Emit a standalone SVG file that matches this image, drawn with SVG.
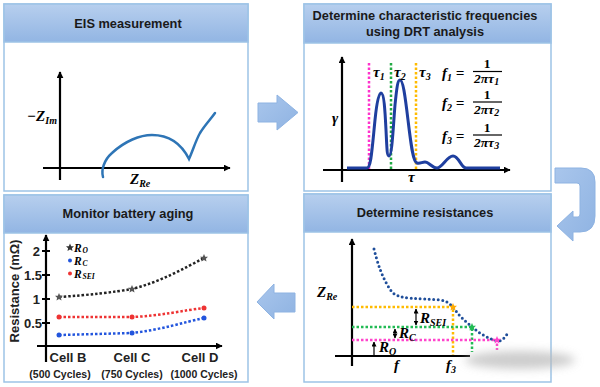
<svg xmlns="http://www.w3.org/2000/svg" width="600" height="387" viewBox="0 0 600 387">
<defs>
<linearGradient id="hdr" x1="0" y1="0" x2="0" y2="1">
<stop offset="0" stop-color="#b7cfee"/>
<stop offset="1" stop-color="#92b5e3"/>
</linearGradient>
<linearGradient id="arr" x1="0" y1="0" x2="1" y2="1">
<stop offset="0" stop-color="#a9c6ec"/>
<stop offset="1" stop-color="#8fb3e2"/>
</linearGradient>
<marker id="ah" viewBox="0 0 10 10" refX="9" refY="5" markerWidth="7" markerHeight="7" orient="auto-start-reverse" markerUnits="userSpaceOnUse">
<path d="M0,0 L10,5 L0,10 z" fill="#000"/>
</marker>
<marker id="sh" viewBox="0 0 10 10" refX="9" refY="5" markerWidth="5" markerHeight="5" orient="auto-start-reverse" markerUnits="userSpaceOnUse">
<path d="M0,0 L10,5 L0,10 z" fill="#000"/>
</marker>
<path id="star" d="M0,-4 L1.2,-1.3 4,-1.2 1.9,0.7 2.5,3.5 0,2 -2.5,3.5 -1.9,0.7 -4,-1.2 -1.2,-1.3 z"/>
<filter id="blur" x="-50%" y="-100%" width="200%" height="300%"><feGaussianBlur stdDeviation="5"/></filter>
<style>
.panel{fill:#fff;stroke:#9dc3e6;stroke-width:1.5}
.hdr{fill:url(#hdr);stroke:#9dc3e6;stroke-width:1.5}
.ht{font-family:"Liberation Sans",Arial,sans-serif;font-weight:bold;font-size:12.8px;fill:#1a1a1a;text-anchor:middle}
.ax{stroke:#000;stroke-width:2.2;fill:none}
.m{font-family:"Liberation Serif","Times New Roman",serif;font-weight:bold;font-style:italic;font-size:15px;fill:#000}
.mu{font-family:"Liberation Serif","Times New Roman",serif;font-weight:bold;font-size:15px;fill:#000}
.fr{font-size:13.5px}
.sub{font-size:10px}
.lg{font-size:11.5px}
.lgs{font-size:7.5px}
.lab{font-family:"Liberation Sans",Arial,sans-serif;font-weight:bold;font-size:13px;fill:#222}
.small{font-family:"Liberation Sans",Arial,sans-serif;font-weight:bold;font-size:10.5px;fill:#222;text-anchor:middle}
.dot{fill:none;stroke-width:2.5;stroke-dasharray:2.5 2}
.flow{fill:url(#arr);stroke:#8eb3e2;stroke-width:1}
</style>
</defs>

<g id="eis">
<rect class="panel" x="4" y="4" width="244" height="187"/>
<rect class="hdr" x="4" y="4" width="244" height="38"/>
<text class="ht" x="128" y="28">EIS measurement</text>
<line class="ax" x1="60" y1="180" x2="60" y2="72" marker-end="url(#ah)"/>
<line class="ax" x1="43" y1="168" x2="230" y2="168" marker-end="url(#ah)"/>
<text class="m" x="27" y="121">−Z<tspan class="sub" dy="3">Im</tspan></text>
<text class="m" x="130" y="184">Z<tspan class="sub" dy="3">Re</tspan></text>
<path d="M103,177 C101,170 104,160 112,153 C125,141 140,135 152,135 C170,135 182,145 189,159 C193,150 196,140 200,133 C205,125 210,120 215,113" fill="none" stroke="#2e75b6" stroke-width="2.5" stroke-linecap="round"/>
</g>

<g id="drt">
<rect class="panel" x="304" y="4" width="247" height="187"/>
<rect class="hdr" x="304" y="4" width="247" height="39"/>
<text class="ht" x="425" y="20">Determine characteristic frequencies</text>
<text class="ht" x="425" y="36">using DRT analysis</text>
<line class="ax" x1="342" y1="182" x2="342" y2="57" marker-end="url(#ah)"/>
<line class="ax" x1="323" y1="170" x2="510" y2="170" marker-end="url(#ah)"/>
<line class="dot" x1="369" y1="63" x2="369" y2="169" stroke="#ff33cc"/>
<line class="dot" x1="391" y1="63" x2="391" y2="169" stroke="#22aa44"/>
<line class="dot" x1="416" y1="63" x2="416" y2="169" stroke="#ffbb00"/>
<path d="M347,168 L367,168 C371,168 372,150 375,120 C377,100 379,93 381,93 C384,93 385,110 386,130 C387,150 387,156 389,156 C392,156 393,130 395,105 C397,85 398,80 400,80 C403,80 405,95 408,120 C411,145 413,162 417,163 C420,164 422,162 425,162 C429,162 432,168 437,168 C442,168 447,156 453,156 C459,156 461,168 466,168 L500,168" fill="none" stroke="#1f3f9f" stroke-width="3" stroke-linejoin="round"/>
<text class="m" x="332" y="123">γ</text>
<text class="m" x="408" y="182">τ</text>
<text class="m" x="373" y="77">τ<tspan class="sub" dy="3">1</tspan></text>
<text class="m" x="394" y="77">τ<tspan class="sub" dy="3">2</tspan></text>
<text class="m" x="419" y="77">τ<tspan class="sub" dy="3">3</tspan></text>
<text class="m" x="442" y="78">f<tspan class="sub" dy="3">1</tspan><tspan class="mu" dy="-3"> =</tspan></text>
<text class="mu fr" x="487" y="68" text-anchor="middle">1</text>
<line x1="473" y1="71.5" x2="502" y2="71.5" stroke="#000" stroke-width="1.2"/>
<text class="m fr" x="474" y="83">2πτ<tspan class="sub" font-size="9" dy="2">1</tspan></text>
<text class="m" x="442" y="108">f<tspan class="sub" dy="3">2</tspan><tspan class="mu" dy="-3"> =</tspan></text>
<text class="mu fr" x="487" y="99" text-anchor="middle">1</text>
<line x1="473" y1="102" x2="502" y2="102" stroke="#000" stroke-width="1.2"/>
<text class="m fr" x="474" y="114">2πτ<tspan class="sub" font-size="9" dy="2">2</tspan></text>
<text class="m" x="442" y="141">f<tspan class="sub" dy="3">3</tspan><tspan class="mu" dy="-3"> =</tspan></text>
<text class="mu fr" x="487" y="132" text-anchor="middle">1</text>
<line x1="473" y1="135" x2="502" y2="135" stroke="#000" stroke-width="1.2"/>
<text class="m fr" x="474" y="147">2πτ<tspan class="sub" font-size="9" dy="2">3</tspan></text>
</g>

<g id="aging">
<rect class="panel" x="4" y="195" width="244" height="187"/>
<rect class="hdr" x="4" y="195" width="244" height="38"/>
<text class="ht" x="128" y="218">Monitor battery aging</text>
<line class="ax" x1="46" y1="362" x2="46" y2="235" marker-end="url(#ah)"/>
<line class="ax" x1="37" y1="346" x2="222" y2="346" marker-end="url(#ah)"/>
<g stroke="#000" stroke-width="2">
<line x1="42" y1="251" x2="50" y2="251"/><line x1="42" y1="275" x2="50" y2="275"/>
<line x1="42" y1="299" x2="50" y2="299"/><line x1="42" y1="323" x2="50" y2="323"/>
</g>
<g class="lab" text-anchor="end">
<text x="40" y="256">2</text><text x="42" y="280">1.5</text>
<text x="40" y="304">1</text><text x="42" y="328">0.5</text>
</g>
<text class="lab" transform="translate(19,291) rotate(-90)" text-anchor="middle" font-size="12">Resistance (mΩ)</text>
<text class="lab" x="68" y="362" text-anchor="middle">Cell B</text>
<text class="lab" x="132" y="362" text-anchor="middle">Cell C</text>
<text class="lab" x="200" y="362" text-anchor="middle">Cell D</text>
<text class="small" x="60" y="378">(500 Cycles)</text>
<text class="small" x="132" y="378">(750 Cycles)</text>
<text class="small" x="204" y="378">(1000 Cycles)</text>
<path class="dot" d="M59,297 C90,295 115,292 132,289 C160,282 185,268 204,258" stroke="#222"/>
<path class="dot" d="M59,317 L132,317 C160,316 185,310 204,308" stroke="#ee3333"/>
<path class="dot" d="M59,335 L132,333 C160,330 185,322 204,318" stroke="#2255dd"/>
<use href="#star" x="59" y="297" fill="#555"/><use href="#star" x="132" y="289" fill="#555"/><use href="#star" x="204" y="258" fill="#555"/>
<circle cx="59" cy="317" r="2.5" fill="#ee3333"/><circle cx="132" cy="317" r="2.5" fill="#ee3333"/><circle cx="204" cy="308" r="2.5" fill="#ee3333"/>
<circle cx="59" cy="335" r="2.5" fill="#2255dd"/><circle cx="132" cy="333" r="2.5" fill="#2255dd"/><circle cx="204" cy="318" r="2.5" fill="#2255dd"/>
<use href="#star" x="70" y="247.5" fill="#333"/>
<circle cx="70" cy="260.5" r="2" fill="#2255dd"/>
<circle cx="70" cy="273.5" r="2" fill="#ee3333"/>
<text class="m lg" x="74" y="251.5">R</text><text class="m lgs" x="82.5" y="253">O</text>
<text class="m lg" x="74" y="264.5">R</text><text class="m lgs" x="82.5" y="266">C</text>
<text class="m lg" x="74" y="277.5">R</text><text class="m lgs" x="82.5" y="279">SEI</text>
</g>

<g id="resist">
<rect class="panel" x="304" y="194" width="247" height="188"/>
<rect class="hdr" x="304" y="194" width="247" height="38"/>
<text class="ht" x="425" y="217">Determine resistances</text>
<line class="ax" x1="352" y1="366" x2="352" y2="239" marker-end="url(#ah)"/>
<line class="ax" x1="335" y1="356" x2="470" y2="356"/>
<text class="m" x="317" y="297">Z<tspan class="sub" dy="3">Re</tspan></text>
<path class="dot" d="M352,307 H453 V355" stroke="#ffbb00" stroke-width="1.8"/>
<path class="dot" d="M352,327 H472 V352" stroke="#22bb55" stroke-width="1.8"/>
<path class="dot" d="M352,340 H497 V350" stroke="#ff44cc" stroke-width="1.8"/>
<path d="M374,249 C378,265 383,280 392,292 C400,300 420,298 440,300 C452,301 455,312 462,318 C470,325 480,336 497,341 C502,342 505,337 508,333" fill="none" stroke="#1f4e9a" stroke-width="3" stroke-dasharray="0 4.5" stroke-linecap="round"/>
<use href="#star" x="453" y="307" fill="#ffaa00"/>
<use href="#star" x="472" y="327" fill="#22bb55"/>
<use href="#star" x="497" y="340" fill="#ff44cc"/>
<line x1="416" y1="309" x2="416" y2="325" stroke="#000" stroke-width="1.2" marker-start="url(#sh)" marker-end="url(#sh)"/>
<line x1="395" y1="329" x2="395" y2="338" stroke="#000" stroke-width="1.2" marker-start="url(#sh)" marker-end="url(#sh)"/>
<line x1="374" y1="355" x2="374" y2="342" stroke="#000" stroke-width="1.2" marker-end="url(#sh)"/>
<text class="m" x="420" y="323" font-size="14">R<tspan class="sub" dy="3">SEI</tspan></text>
<text class="m" x="399" y="338" font-size="14">R<tspan class="sub" dy="3">C</tspan></text>
<text class="m" x="379" y="352" font-size="14">R<tspan class="sub" dy="3">O</tspan></text>
<text class="m" x="394" y="370">f</text>
<text class="m" x="446" y="370">f<tspan class="sub" dy="3">3</tspan></text>
<ellipse cx="520" cy="360" rx="55" ry="9" fill="#b8b8b8" opacity="0.7" filter="url(#blur)"/>
</g>

<g id="connectors">
<path class="flow" d="M258,103 H277 V95 L298,112.5 L277,130 V122 H258 z"/>
<path class="flow" d="M295,293 H274 V284 L257,302 L274,319 V312 H295 z"/>
<path class="flow" d="M555,168 H581 Q595,168 595,182 V216 Q595,232 580,232 H573 V241 L557,226 L573,211 V217 H578 Q580,217 580,214 V186 Q580,183 577,183 H555 z"/>
</g>
</svg>
